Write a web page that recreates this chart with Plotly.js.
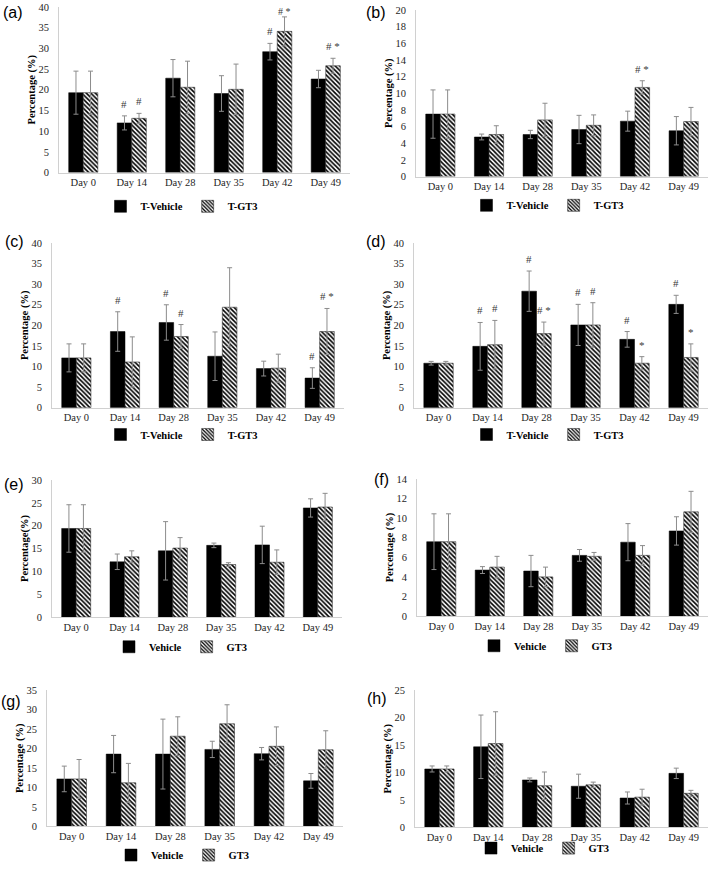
<!DOCTYPE html>
<html><head><meta charset="utf-8">
<script src="https://cdn.plot.ly/plotly-3.0.1.min.js"></script>
<style>html,body{margin:0;padding:0;background:#fff}#chart{width:709px;height:870px}</style>
</head><body><div id="chart"></div>
<script>
// ---------- categories ----------
const days = ["Day 0", "Day 14", "Day 28", "Day 35", "Day 42", "Day 49"];
const names_T = ["T-Vehicle", "T-GT3"];
const names_plain = ["Vehicle", "GT3"];

// ---------- panel (a) ----------
const a_vehicle     = [19.3, 12.0, 22.8, 19.1, 29.2, 22.6];
const a_vehicle_err = [5.2, 1.7, 4.5, 4.3, 2.0, 2.1];
const a_gt3         = [19.3, 13.1, 20.6, 20.1, 34.1, 25.8];
const a_gt3_err     = [5.2, 1.2, 6.3, 6.1, 3.5, 1.8];
const a_sig_vehicle = ["", "#", "", "", "#", ""];
const a_sig_gt3     = ["", "#", "", "", "# *", "# *"];

// ---------- panel (b) ----------
const b_vehicle     = [7.5, 4.75, 5.05, 5.65, 6.65, 5.5];
const b_vehicle_err = [2.9, 0.35, 0.5, 1.7, 1.2, 1.7];
const b_gt3         = [7.5, 5.05, 6.8, 6.15, 10.7, 6.6];
const b_gt3_err     = [2.9, 1.05, 2.0, 1.25, 0.8, 1.7];
const b_sig_vehicle = ["", "", "", "", "", ""];
const b_sig_gt3     = ["", "", "", "", "# *", ""];

// ---------- panel (c) ----------
const c_vehicle     = [12.1, 18.5, 20.7, 12.5, 9.5, 7.2];
const c_vehicle_err = [3.4, 4.8, 4.3, 5.9, 1.8, 2.5];
const c_gt3         = [12.1, 11.1, 17.3, 24.4, 9.6, 18.5];
const c_gt3_err     = [3.4, 6.1, 2.9, 9.6, 3.4, 5.6];
const c_sig_vehicle = ["", "#", "#", "", "", "#"];
const c_sig_gt3     = ["", "", "#", "", "", "# *"];

// ---------- panel (d) ----------
const d_vehicle     = [10.8, 14.9, 28.3, 20.1, 16.6, 25.1];
const d_vehicle_err = [0.45, 5.8, 4.9, 5.0, 1.9, 2.2];
const d_gt3         = [10.8, 15.3, 18.0, 20.1, 10.8, 12.2];
const d_gt3_err     = [0.45, 5.9, 2.8, 5.4, 1.6, 3.3];
const d_sig_vehicle = ["", "#", "#", "#", "#", "#"];
const d_sig_gt3     = ["", "#", "# *", "#", "*", "*"];

// ---------- panel (e) ----------
const e_vehicle     = [19.4, 12.1, 14.5, 15.7, 15.8, 23.9];
const e_vehicle_err = [5.2, 1.7, 6.4, 0.5, 4.1, 2.0];
const e_gt3         = [19.4, 13.2, 15.1, 11.5, 12.0, 24.1];
const e_gt3_err     = [5.2, 1.3, 2.3, 0.4, 2.7, 3.0];

// ---------- panel (f) ----------
const f_vehicle     = [7.6, 4.7, 4.6, 6.2, 7.55, 8.7];
const f_vehicle_err = [2.85, 0.35, 1.6, 0.6, 1.9, 1.45];
const f_gt3         = [7.6, 5.0, 4.0, 6.1, 6.2, 10.65];
const f_gt3_err     = [2.85, 1.1, 1.0, 0.4, 1.0, 2.1];

// ---------- panel (g) ----------
const g_vehicle     = [12.2, 18.6, 18.6, 19.8, 18.7, 11.7];
const g_vehicle_err = [3.3, 4.8, 9.0, 2.1, 1.6, 1.9];
const g_gt3         = [12.2, 11.2, 23.2, 26.4, 20.6, 19.7];
const g_gt3_err     = [5.0, 5.0, 5.0, 4.9, 5.0, 4.9];

// ---------- panel (h) ----------
const h_vehicle     = [10.65, 14.7, 8.65, 7.5, 5.35, 9.85];
const h_vehicle_err = [0.55, 5.8, 0.35, 2.2, 1.1, 0.95];
const h_gt3         = [10.65, 15.3, 7.6, 7.75, 5.5, 6.2];
const h_gt3_err     = [0.55, 5.8, 2.5, 0.5, 1.45, 0.55];

const none = ["", "", "", "", "", ""];

// ---------- layout config (pixels) ----------
const W = 709, H = 870;
const SERIF = "Liberation Serif, Times New Roman, serif";
const SANS = "Liberation Sans, Arial, sans-serif";

const panels = [
  {lab:"(a)", v:a_vehicle, ve:a_vehicle_err, g:a_gt3, ge:a_gt3_err, sv:a_sig_vehicle, sg:a_sig_gt3, names:names_T, ymax:40, dtick:5, ytitle:"Percentage (%)", box:[59,350,174,7], labPos:[13,13], legPos:[182,208]},
  {lab:"(b)", v:b_vehicle, ve:b_vehicle_err, g:b_gt3, ge:b_gt3_err, sv:b_sig_vehicle, sg:b_sig_gt3, names:names_T, ymax:20, dtick:2, ytitle:"Percentage (%)", box:[416,708,178,10], labPos:[376,13], legPos:[548,207]},
  {lab:"(c)", v:c_vehicle, ve:c_vehicle_err, g:c_gt3, ge:c_gt3_err, sv:c_sig_vehicle, sg:c_sig_gt3, names:names_T, ymax:40, dtick:5, ytitle:"Percentage (%)", box:[52,344,411,245], labPos:[14,243], legPos:[182,438]},
  {lab:"(d)", v:d_vehicle, ve:d_vehicle_err, g:d_gt3, ge:d_gt3_err, sv:d_sig_vehicle, sg:d_sig_gt3, names:names_T, ymax:40, dtick:5, ytitle:"Percentage (%)", box:[414,708,411,245], labPos:[376,243], legPos:[548,438]},
  {lab:"(e)", v:e_vehicle, ve:e_vehicle_err, g:e_gt3, ge:e_gt3_err, sv:none, sg:none, names:names_plain, ymax:30, dtick:5, ytitle:"Percentage(%)", box:[52,342,622,484], labPos:[14,488], legPos:[181,652]},
  {lab:"(f)", v:f_vehicle, ve:f_vehicle_err, g:f_gt3, ge:f_gt3_err, sv:none, sg:none, names:names_plain, ymax:14, dtick:2, ytitle:"Percentage (%)", box:[417,708,621,483], labPos:[381,483], legPos:[546,651]},
  {lab:"(g)", v:g_vehicle, ve:g_vehicle_err, g:g_gt3, ge:g_gt3_err, sv:none, sg:none, names:names_plain, ymax:35, dtick:5, ytitle:"Percentage (%)", box:[47,343,833,696], labPos:[11,707], legPos:[183,862]},
  {lab:"(h)", v:h_vehicle, ve:h_vehicle_err, g:h_gt3, ge:h_gt3_err, sv:none, sg:none, names:names_plain, ymax:25, dtick:5, ytitle:"Percentage (%)", box:[415,708,834,696], labPos:[377,704], legPos:[543,855]}
];

const traces = [];
const layout = {
  width: W, height: H,
  margin: {l:0, r:0, t:0, b:0},
  paper_bgcolor: "#ffffff", plot_bgcolor: "#ffffff",
  barmode: "group", bargap: 0.4, bargroupgap: 0,
  showlegend: true,
  annotations: [],
  font: {family: SERIF, color: "#262626", size: 10}
};

panels.forEach((p, i) => {
  const n = i === 0 ? "" : String(i + 1);
  const xa = "x" + n, ya = "y" + n;
  const legId = "legend" + n;
  const [x0, x1, yb, yt] = p.box;

  traces.push({
    type: "bar", x: days, y: p.v, name: p.names[0],
    xaxis: xa, yaxis: ya, legend: legId,
    marker: {color: "#000000", line: {color: "#000000", width: 0.5}},
    error_y: {type: "data", array: p.ve, visible: true, color: "#8c8c8c", thickness: 1, width: 2.5},
    hoverinfo: "skip"
  });
  traces.push({
    type: "bar", x: days, y: p.g, name: p.names[1],
    xaxis: xa, yaxis: ya, legend: legId,
    marker: {color: "#ffffff", line: {color: "#333333", width: 0.6},
             pattern: {shape: "\\", fgcolor: "#000000", bgcolor: "#ffffff", size: 3.2, solidity: 0.5}},
    error_y: {type: "data", array: p.ge, visible: true, color: "#8c8c8c", thickness: 1, width: 2.5},
    hoverinfo: "skip"
  });

  layout["xaxis" + n] = {
    domain: [x0 / W, x1 / W], anchor: ya,
    type: "category", showgrid: false, zeroline: false,
    showline: true, linecolor: "#d0d0d0", linewidth: 1,
    ticks: "", tickfont: {family: SERIF, size: 10.5, color: "#262626"},
    fixedrange: true
  };
  layout["yaxis" + n] = {
    domain: [(H - yb) / H, (H - yt) / H], anchor: xa,
    range: [0, p.ymax], dtick: p.dtick, tick0: 0,
    showgrid: false, zeroline: false,
    showline: true, linecolor: "#d0d0d0", linewidth: 1,
    ticks: "", ticklabelstandoff: 7,
    tickfont: {family: SERIF, size: 10.5, color: "#262626"},
    title: {text: p.ytitle, font: {family: SERIF, size: 10.5, color: "#000000", weight: "bold"}, standoff: 0},
    fixedrange: true
  };
  layout[legId] = {
    orientation: "h", x: p.legPos[0] / W, y: (H - p.legPos[1]) / H,
    xanchor: "center", yanchor: "middle", xref: "paper", yref: "paper",
    font: {family: SERIF, size: 10.5, color: "#000000", weight: "bold"},
    bgcolor: "rgba(0,0,0,0)", itemwidth: 30, tracegroupgap: 0,
    traceorder: "normal"
  };

  // panel label
  layout.annotations.push({
    text: p.lab, xref: "paper", yref: "paper",
    x: p.labPos[0] / W, y: (H - p.labPos[1]) / H,
    xanchor: "center", yanchor: "middle", showarrow: false,
    font: {family: SANS, size: 16, color: "#000000"}
  });

  // significance markers (placed just above each error bar cap)
  const addSig = (sig, vals, errs, off) => {
    sig.forEach((s, k) => {
      if (!s) return;
      const top = vals[k] + errs[k];
      const nearTop = top > 0.9 * p.ymax;
      layout.annotations.push({
        text: s, xref: xa, yref: ya, x: k + off, y: top,
        xanchor: "center", yanchor: "bottom", yshift: nearTop ? -1 : 5, showarrow: false,
        borderpad: 0,
        font: {family: SERIF, size: nearTop ? 10 : 11, color: "#3a3a3a"}
      });
    });
  };
  addSig(p.sv, p.v, p.ve, -0.15);
  addSig(p.sg, p.g, p.ge, 0.15);
});

Plotly.newPlot("chart", traces, layout, {staticPlot: true, displayModeBar: false});
</script>
</body></html>
